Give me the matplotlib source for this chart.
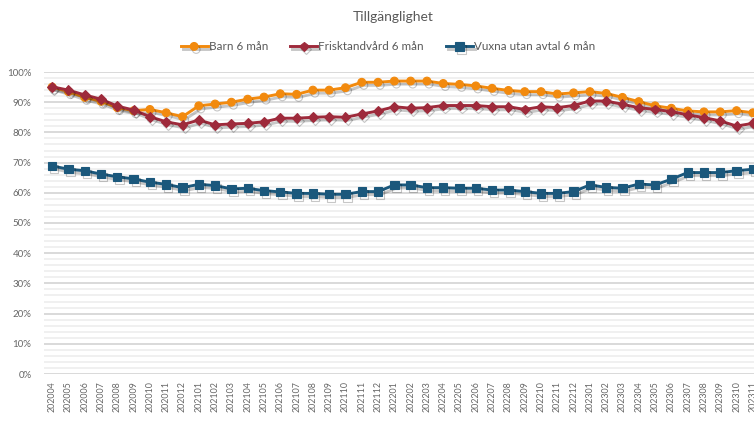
import matplotlib
matplotlib.use("Agg")
import matplotlib.pyplot as plt
import matplotlib.patheffects as pe
from matplotlib.ticker import MultipleLocator, FuncFormatter

plt.rcParams['font.family'] = ['Lato', 'DejaVu Sans']

months = ["202004", "202005", "202006", "202007", "202008", "202009", "202010", "202011", "202012",
          "202101", "202102", "202103", "202104", "202105", "202106", "202107", "202108", "202109",
          "202110", "202111", "202112", "202201", "202202", "202203", "202204", "202205", "202206",
          "202207", "202208", "202209", "202210", "202211", "202212", "202301", "202302", "202303",
          "202304", "202305", "202306", "202307", "202308", "202309", "202310", "202311"]

barn = [95.0, 93.5, 91.6, 90.3, 88.2, 87.2, 87.6, 86.5, 85.2,
        88.8, 89.4, 90.0, 91.0, 91.7, 92.8, 92.6, 94.0, 94.0, 94.8,
        96.6, 96.6, 97.0, 97.0, 97.0, 96.2, 95.9, 95.4, 94.6, 93.9,
        93.5, 93.5, 92.7, 93.1, 93.5, 92.9, 91.6, 90.2, 88.8, 88.0,
        87.1, 86.8, 86.8, 87.2, 86.5]

frisk = [95.1, 94.0, 92.4, 91.0, 88.7, 87.4, 85.2, 83.5, 82.5,
         84.1, 82.5, 82.8, 83.0, 83.5, 84.7, 84.7, 85.0, 85.2, 85.0,
         86.1, 87.1, 88.5, 88.0, 88.2, 88.9, 88.9, 88.9, 88.5, 88.5,
         87.6, 88.5, 88.2, 88.9, 90.4, 90.4, 89.3, 88.2, 87.6, 86.9,
         85.8, 84.9, 83.8, 82.1, 83.0]

vuxna = [68.9, 67.8, 67.3, 66.2, 65.3, 64.6, 63.5, 62.8, 61.7,
         62.8, 62.4, 61.3, 61.5, 60.7, 60.3, 59.8, 59.8, 59.5, 59.5,
         60.4, 60.4, 62.6, 62.6, 61.7, 61.7, 61.5, 61.5, 60.9, 60.9,
         60.4, 59.8, 59.8, 60.4, 62.6, 61.8, 61.5, 62.9, 62.6, 64.5,
         66.7, 66.7, 66.7, 67.3, 67.8]

series = [
    ("Barn 6 mån", barn, "#F28A0E", "o", 5.6),
    ("Frisktandvård 6 mån", frisk, "#9E2A3B", "D", 5.0),
    ("Vuxna utan avtal 6 mån", vuxna, "#1B587C", "s", 6.0),
]

W, H = 754, 421
fig = plt.figure(figsize=(W / 100, H / 100), dpi=100)
left_px, right_px, top_px, bottom_px = 44, 761, 72, 374
ax = fig.add_axes([left_px / W, (H - bottom_px) / H, (right_px - left_px) / W, (bottom_px - top_px) / H])

x = list(range(len(months)))
shadow = [pe.SimpleLineShadow(offset=(1.5, -2.2), shadow_color="#000000", alpha=0.22), pe.Normal()]
for name, vals, col, mk, ms in series:
    ax.plot(x, vals, color=col, lw=2.1, marker=mk, ms=ms, mfc=col, mec=col, mew=0.8,
            label=name, path_effects=shadow, zorder=3)

ax.set_xlim(-0.5, len(months) - 0.5)
ax.set_ylim(0, 100)
ax.yaxis.set_major_locator(MultipleLocator(10))
ax.yaxis.set_minor_locator(MultipleLocator(2))
ax.yaxis.set_major_formatter(FuncFormatter(lambda v, p: f"{int(round(v))}%"))
ax.grid(which="minor", axis="y", color="#EEEEEE", lw=1.2, zorder=0)
ax.grid(which="major", axis="y", color="#D9D9D9", lw=1.4, zorder=0)
ax.set_axisbelow(True)
for s in ax.spines.values():
    s.set_visible(False)
ax.set_xticks(x)
ax.set_xticklabels(months, rotation=90, fontsize=6.4, color="#666666")
ax.tick_params(axis="x", length=0, pad=5)
ax.tick_params(axis="y", which="both", length=0, pad=9, labelsize=7, labelcolor="#666666")

fig.text(393 / W, 1 - 17 / H, "Tillgänglighet", ha="center", va="center", fontsize=10, color="#595959")
handles, labels = ax.get_legend_handles_labels()
fig.legend(handles, labels, loc="center", bbox_to_anchor=(388 / W, 1 - 47 / H), ncol=3, frameon=False,
           fontsize=8.4, labelcolor="#595959", handlelength=2.3, handletextpad=0.1, columnspacing=1.9)

fig.savefig("out.png", dpi=100)
